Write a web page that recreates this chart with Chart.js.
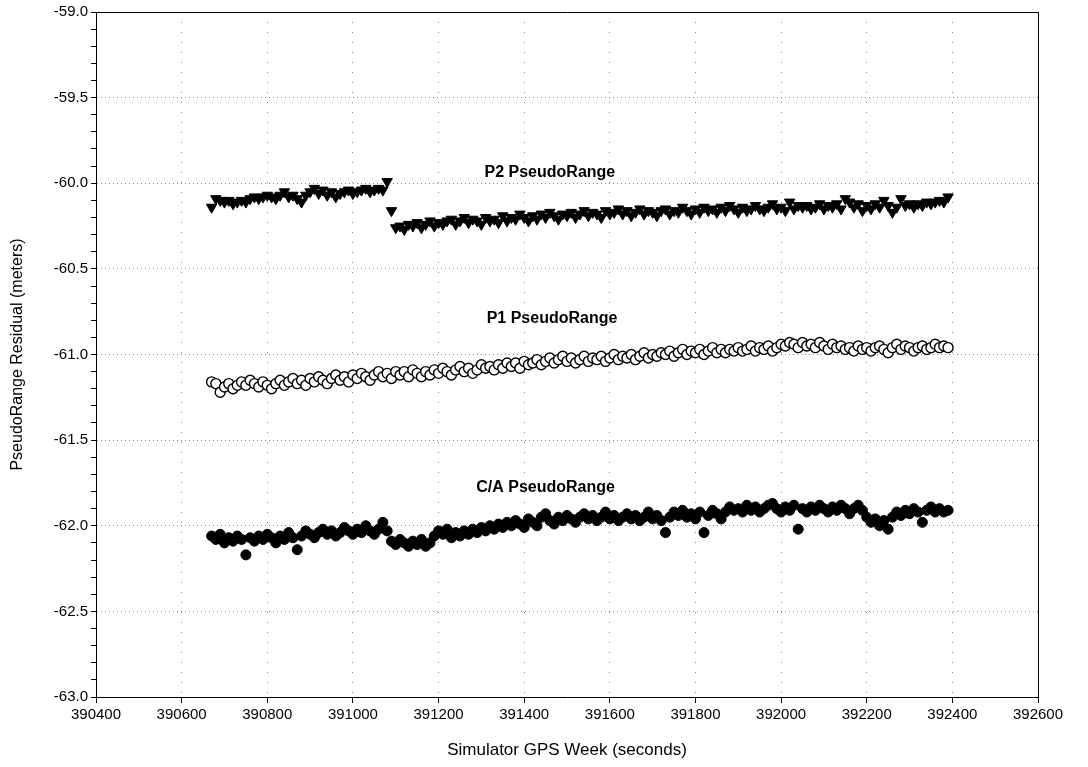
<!DOCTYPE html>
<html>
<head>
<meta charset="utf-8">
<script src="https://cdn.jsdelivr.net/npm/chart.js@4/dist/chart.umd.min.js"></script>
<style>
  html, body { margin: 0; padding: 0; background: #fff; }
  #wrap { width: 1088px; height: 767px; }
</style>
</head>
<body>
<div id="wrap"><canvas id="c" width="1088" height="767"></canvas></div>
<script>
// ---- Data ----
const times = [
  390670,390680,390690,390700,390710,390720,390730,390740,390750,390760,
  390770,390780,390790,390800,390810,390820,390830,390840,390850,390860,
  390870,390880,390890,390900,390910,390920,390930,390940,390950,390960,
  390970,390980,390990,391000,391010,391020,391030,391040,391050,391060,
  391070,391080,391090,391100,391110,391120,391130,391140,391150,391160,
  391170,391180,391190,391200,391210,391220,391230,391240,391250,391260,
  391270,391280,391290,391300,391310,391320,391330,391340,391350,391360,
  391370,391380,391390,391400,391410,391420,391430,391440,391450,391460,
  391470,391480,391490,391500,391510,391520,391530,391540,391550,391560,
  391570,391580,391590,391600,391610,391620,391630,391640,391650,391660,
  391670,391680,391690,391700,391710,391720,391730,391740,391750,391760,
  391770,391780,391790,391800,391810,391820,391830,391840,391850,391860,
  391870,391880,391890,391900,391910,391920,391930,391940,391950,391960,
  391970,391980,391990,392000,392010,392020,392030,392040,392050,392060,
  392070,392080,392090,392100,392110,392120,392130,392140,392150,392160,
  392170,392180,392190,392200,392210,392220,392230,392240,392250,392260,
  392270,392280,392290,392300,392310,392320,392330,392340,392350,392360,
  392370,392380,392390
];

const p2Range = [
  -60.14,-60.09,-60.10,-60.11,-60.10,-60.12,-60.11,-60.10,-60.11,-60.09,
  -60.08,-60.09,-60.08,-60.07,-60.08,-60.09,-60.07,-60.05,-60.08,-60.07,
  -60.09,-60.11,-60.07,-60.05,-60.03,-60.06,-60.04,-60.07,-60.05,-60.08,
  -60.06,-60.05,-60.04,-60.06,-60.05,-60.04,-60.03,-60.05,-60.04,-60.03,
  -60.04,-59.99,-60.16,
  -60.26,-60.25,-60.27,-60.24,-60.25,-60.23,-60.26,-60.24,-60.22,-60.25,
  -60.23,-60.24,-60.22,-60.21,-60.24,-60.22,-60.20,-60.23,-60.21,-60.22,
  -60.24,-60.20,-60.22,-60.21,-60.23,-60.19,-60.22,-60.20,-60.21,-60.18,
  -60.20,-60.22,-60.19,-60.21,-60.18,-60.20,-60.17,-60.19,-60.21,-60.18,
  -60.19,-60.17,-60.20,-60.18,-60.16,-60.19,-60.17,-60.18,-60.20,-60.16,
  -60.18,-60.17,-60.15,-60.18,-60.16,-60.19,-60.17,-60.15,-60.18,-60.16,
  -60.17,-60.19,-60.16,-60.15,-60.18,-60.16,-60.17,-60.14,-60.16,-60.18,
  -60.15,-60.17,-60.14,-60.16,-60.15,-60.17,-60.14,-60.16,-60.13,-60.15,
  -60.17,-60.14,-60.16,-60.15,-60.13,-60.15,-60.16,-60.14,-60.12,-60.15,
  -60.14,-60.16,-60.11,-60.15,-60.13,-60.14,-60.13,-60.15,-60.14,-60.12,
  -60.15,-60.13,-60.14,-60.12,-60.15,-60.09,-60.11,-60.14,-60.12,-60.16,
  -60.13,-60.15,-60.12,-60.14,-60.10,-60.13,-60.17,-60.14,-60.09,-60.13,
  -60.12,-60.14,-60.12,-60.13,-60.11,-60.12,-60.11,-60.10,-60.11,-60.08
];

const p1Range = [
  -61.16,-61.17,-61.22,-61.19,-61.17,-61.20,-61.18,-61.16,-61.18,-61.15,
  -61.17,-61.19,-61.16,-61.18,-61.20,-61.17,-61.15,-61.18,-61.16,-61.14,
  -61.17,-61.15,-61.18,-61.14,-61.16,-61.13,-61.15,-61.17,-61.14,-61.12,
  -61.15,-61.13,-61.16,-61.12,-61.14,-61.11,-61.13,-61.15,-61.12,-61.10,
  -61.13,-61.11,-61.14,-61.10,-61.12,-61.10,-61.13,-61.09,-61.11,-61.13,
  -61.10,-61.12,-61.09,-61.11,-61.08,-61.10,-61.12,-61.09,-61.07,-61.10,
  -61.08,-61.11,-61.09,-61.06,-61.08,-61.07,-61.09,-61.06,-61.08,-61.05,
  -61.07,-61.05,-61.08,-61.04,-61.06,-61.05,-61.03,-61.06,-61.04,-61.02,
  -61.05,-61.03,-61.01,-61.04,-61.02,-61.05,-61.03,-61.01,-61.04,-61.02,
  -61.03,-61.01,-61.04,-61.02,-61.00,-61.03,-61.01,-61.02,-61.00,-61.03,
  -61.01,-60.99,-61.02,-61.00,-61.01,-60.99,-61.00,-60.98,-61.01,-60.99,
  -60.97,-61.00,-60.98,-60.99,-60.97,-61.00,-60.98,-60.96,-60.99,-60.97,
  -60.99,-60.97,-60.98,-60.96,-60.98,-60.97,-60.95,-60.98,-60.96,-60.97,
  -60.95,-60.98,-60.96,-60.94,-60.95,-60.93,-60.94,-60.96,-60.93,-60.95,
  -60.94,-60.96,-60.93,-60.95,-60.97,-60.94,-60.96,-60.95,-60.97,-60.96,
  -60.98,-60.95,-60.97,-60.96,-60.98,-60.96,-60.95,-60.97,-60.99,-60.96,
  -60.94,-60.97,-60.95,-60.96,-60.98,-60.96,-60.95,-60.97,-60.96,-60.94,
  -60.96,-60.95,-60.96
];

const caRange = [
  -62.06,-62.08,-62.05,-62.10,-62.07,-62.09,-62.06,-62.08,-62.17,-62.07,
  -62.09,-62.06,-62.08,-62.05,-62.07,-62.10,-62.06,-62.08,-62.04,-62.07,
  -62.14,-62.06,-62.03,-62.05,-62.07,-62.04,-62.02,-62.05,-62.03,-62.06,
  -62.04,-62.01,-62.03,-62.05,-62.02,-62.04,-62.00,-62.03,-62.05,-62.02,
  -61.98,-62.03,-62.09,-62.11,-62.08,-62.10,-62.12,-62.09,-62.11,-62.08,
  -62.12,-62.10,-62.06,-62.03,-62.05,-62.02,-62.07,-62.04,-62.06,-62.03,
  -62.05,-62.02,-62.04,-62.01,-62.03,-62.00,-62.02,-61.99,-62.01,-61.98,
  -62.00,-61.97,-61.99,-62.01,-61.96,-61.98,-62.00,-61.95,-61.93,-61.97,
  -61.99,-61.95,-61.97,-61.94,-61.96,-61.98,-61.95,-61.93,-61.96,-61.94,
  -61.97,-61.95,-61.92,-61.96,-61.94,-61.97,-61.95,-61.93,-61.96,-61.94,
  -61.97,-61.95,-61.92,-61.96,-61.94,-61.97,-62.04,-61.95,-61.92,-61.94,
  -61.91,-61.95,-61.93,-61.96,-61.92,-62.04,-61.94,-61.91,-61.93,-61.96,
  -61.92,-61.89,-61.91,-61.90,-61.92,-61.88,-61.91,-61.89,-61.92,-61.90,
  -61.88,-61.87,-61.90,-61.92,-61.89,-61.91,-61.88,-62.02,-61.90,-61.92,
  -61.89,-61.91,-61.88,-61.90,-61.92,-61.89,-61.91,-61.88,-61.90,-61.93,
  -61.90,-61.88,-61.91,-61.95,-61.98,-61.96,-62.00,-61.97,-62.02,-61.95,
  -61.92,-61.94,-61.91,-61.93,-61.90,-61.92,-61.98,-61.91,-61.89,-61.92,
  -61.90,-61.92,-61.91
];

// Series labels placed inside the plot (data coordinates)
const seriesLabels = ['P2 PseudoRange', 'P1 PseudoRange', 'C/A PseudoRange'];
const seriesLabelX = [391460, 391465, 391450];
const seriesLabelY = [-59.935, -60.79, -61.78];

// Axis settings
const xMin = 390400, xMax = 392600, xStep = 200;
const yMin = -63.0, yMax = -59.0, yMajor = 0.5, yMinor = 0.1;
const xTitle = 'Simulator GPS Week (seconds)';
const yTitle = 'PseudoRange Residual (meters)';

const FONT = "'Liberation Sans', Arial, Helvetica, sans-serif";

function pts(vals) {
  return times.map((t, i) => ({ x: t, y: vals[i] }));
}

function isMajor(v) {
  const k = v / yMajor;
  return Math.abs(k - Math.round(k)) < 1e-6;
}

const framePlugin = {
  id: 'frameAndLabels',
  afterDraw(chart) {
    const { ctx, chartArea: a, scales } = chart;
    ctx.save();
    ctx.strokeStyle = '#000';
    ctx.lineWidth = 1;
    ctx.beginPath();
    ctx.moveTo(Math.round(a.left) + 0.5, Math.round(a.top) + 0.5);
    ctx.lineTo(Math.round(a.right) + 0.5, Math.round(a.top) + 0.5);
    ctx.lineTo(Math.round(a.right) + 0.5, Math.round(a.bottom) + 0.5);
    ctx.stroke();
    ctx.fillStyle = '#000';
    ctx.font = 'bold 16px ' + FONT;
    ctx.textAlign = 'center';
    ctx.textBaseline = 'middle';
    seriesLabels.forEach((s, i) => {
      ctx.fillText(s, scales.x.getPixelForValue(seriesLabelX[i]), scales.y.getPixelForValue(seriesLabelY[i]));
    });
    ctx.restore();
  }
};

new Chart(document.getElementById('c'), {
  type: 'scatter',
  data: {
    datasets: [
      {
        label: 'P2 PseudoRange',
        data: pts(p2Range),
        pointStyle: 'triangle',
        rotation: 180,
        pointRadius: 6,
        backgroundColor: '#000',
        borderColor: '#000',
        borderWidth: 1
      },
      {
        label: 'P1 PseudoRange',
        data: pts(p1Range),
        pointStyle: 'circle',
        pointRadius: 5,
        backgroundColor: '#fff',
        borderColor: '#000',
        borderWidth: 1.4
      },
      {
        label: 'C/A PseudoRange',
        data: pts(caRange),
        pointStyle: 'circle',
        pointRadius: 5,
        backgroundColor: '#000',
        borderColor: '#000',
        borderWidth: 1
      }
    ]
  },
  options: {
    responsive: false,
    animation: false,
    events: [],
    layout: { padding: { left: 0, top: 12, right: 50, bottom: 0 } },
    plugins: {
      legend: { display: false },
      tooltip: { enabled: false },
      title: { display: false }
    },
    scales: {
      x: {
        type: 'linear',
        min: xMin, max: xMax,
        afterFit(scale) { scale.height = 70; },
        ticks: {
          stepSize: xStep,
          autoSkip: false,
          maxRotation: 0,
          padding: 3,
          color: '#000',
          font: { family: FONT, size: 15 },
          callback: (v) => String(v)
        },
        grid: {
          color: '#8a8a8a',
          lineWidth: 1,
          tickLength: 6,
          tickColor: '#000'
        },
        border: { display: true, color: '#000', width: 1, dash: [1, 9] },
        title: {
          display: true,
          text: xTitle,
          color: '#000',
          font: { family: FONT, size: 17 },
          padding: { top: 0, bottom: 6 }
        }
      },
      y: {
        type: 'linear',
        min: yMin, max: yMax,
        afterFit(scale) { scale.width = 96; },
        ticks: {
          stepSize: yMinor,
          autoSkip: false,
          padding: 3,
          color: '#000',
          font: { family: FONT, size: 15 },
          callback: (v) => isMajor(v) ? Number(v).toFixed(1) : ''
        },
        grid: {
          color: (c) => (c.tick && isMajor(c.tick.value)) ? '#8a8a8a' : 'rgba(0,0,0,0)',
          lineWidth: 1,
          tickLength: 5,
          tickColor: '#000'
        },
        border: { display: true, color: '#000', width: 1, dash: [1, 3] },
        title: {
          display: true,
          text: yTitle,
          color: '#000',
          font: { family: FONT, size: 16 },
          padding: { top: 8, bottom: 0 }
        }
      }
    }
  },
  plugins: [framePlugin]
});
</script>
</body>
</html>
